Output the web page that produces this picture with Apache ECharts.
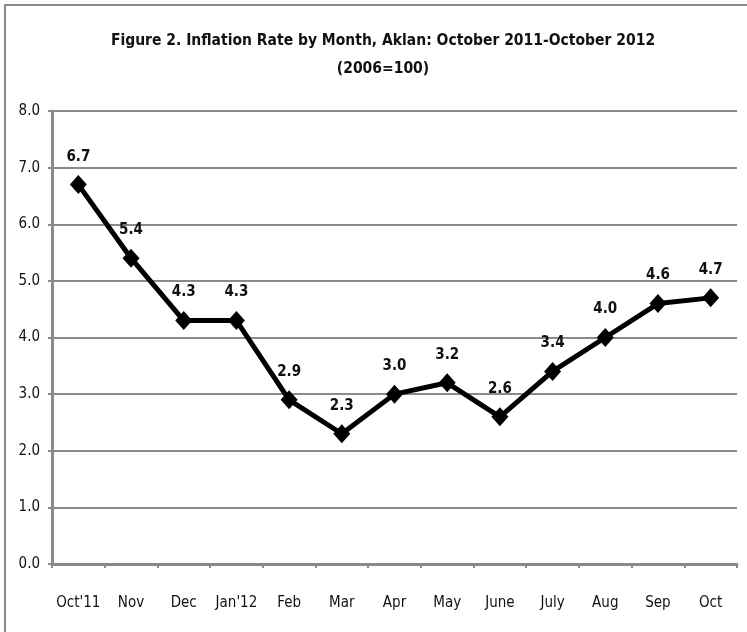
<!DOCTYPE html>
<html>
<head>
<meta charset="utf-8">
<script src="https://cdn.jsdelivr.net/npm/echarts@6/dist/echarts.min.js"></script>
<style>
  html, body { margin: 0; padding: 0; background: #fff; }
  #chart { width: 747px; height: 632px; }
</style>
</head>
<body>
<div id="chart"></div>
<script>
// Monthly inflation rate, Aklan (2006=100)
const months = ["Oct'11", "Nov", "Dec", "Jan'12", "Feb", "Mar", "Apr", "May", "June", "July", "Aug", "Sep", "Oct"];
const inflationRate = [6.7, 5.4, 4.3, 4.3, 2.9, 2.3, 3.0, 3.2, 2.6, 3.4, 4.0, 4.6, 4.7];
const titleLines = ["Figure 2. Inflation Rate by Month, Aklan: October 2011-October 2012", "(2006=100)"];

const FONT = "'DejaVu Sans Condensed', 'Liberation Sans Narrow', 'Arial Narrow', sans-serif";
const GRID_GREY = '#8a8a8a';

const chart = echarts.init(document.getElementById('chart'));
chart.setOption({
  animation: false,
  backgroundColor: '#fff',
  title: {
    text: titleLines.join('\n'),
    left: 378,
    top: 22,
    textAlign: 'center',
    textStyle: {
      fontFamily: FONT,
      fontWeight: 'bold',
      fontSize: 15.5,
      color: '#111',
      lineHeight: 28
    }
  },
  graphic: [{
    type: 'rect',
    shape: { x: 5, y: 5, width: 800, height: 700 },
    style: { fill: 'none', stroke: GRID_GREY, lineWidth: 2 },
    silent: true,
    z: 0
  }],
  grid: { left: 52, right: 10, top: 111, bottom: 68 },
  xAxis: {
    type: 'category',
    data: months,
    boundaryGap: true,
    axisLine: { lineStyle: { color: GRID_GREY, width: 3 } },
    axisTick: { show: true, interval: 0, length: 4, lineStyle: { color: GRID_GREY, width: 2 } },
    axisLabel: { interval: 0, color: '#111', fontFamily: FONT, fontSize: 15, margin: 32 }
  },
  yAxis: {
    type: 'value',
    min: 0,
    max: 8,
    interval: 1,
    axisLine: { show: true, lineStyle: { color: GRID_GREY, width: 3 } },
    axisTick: { show: true, length: 4, lineStyle: { color: GRID_GREY, width: 2 } },
    axisLabel: {
      color: '#111', fontFamily: FONT, fontSize: 15, margin: 12,
      formatter: v => v.toFixed(1)
    },
    splitLine: { lineStyle: { color: GRID_GREY, width: 2 } }
  },
  series: [{
    type: 'line',
    data: inflationRate,
    symbol: 'diamond',
    symbolSize: [17, 19],
    lineStyle: { color: '#000', width: 5 },
    itemStyle: { color: '#000' },
    label: {
      show: true,
      position: 'top',
      distance: 11,
      formatter: p => p.value.toFixed(1),
      fontFamily: FONT,
      fontWeight: 'bold',
      fontSize: 15,
      color: '#111'
    },
    z: 3
  }]
});
</script>
</body>
</html>
